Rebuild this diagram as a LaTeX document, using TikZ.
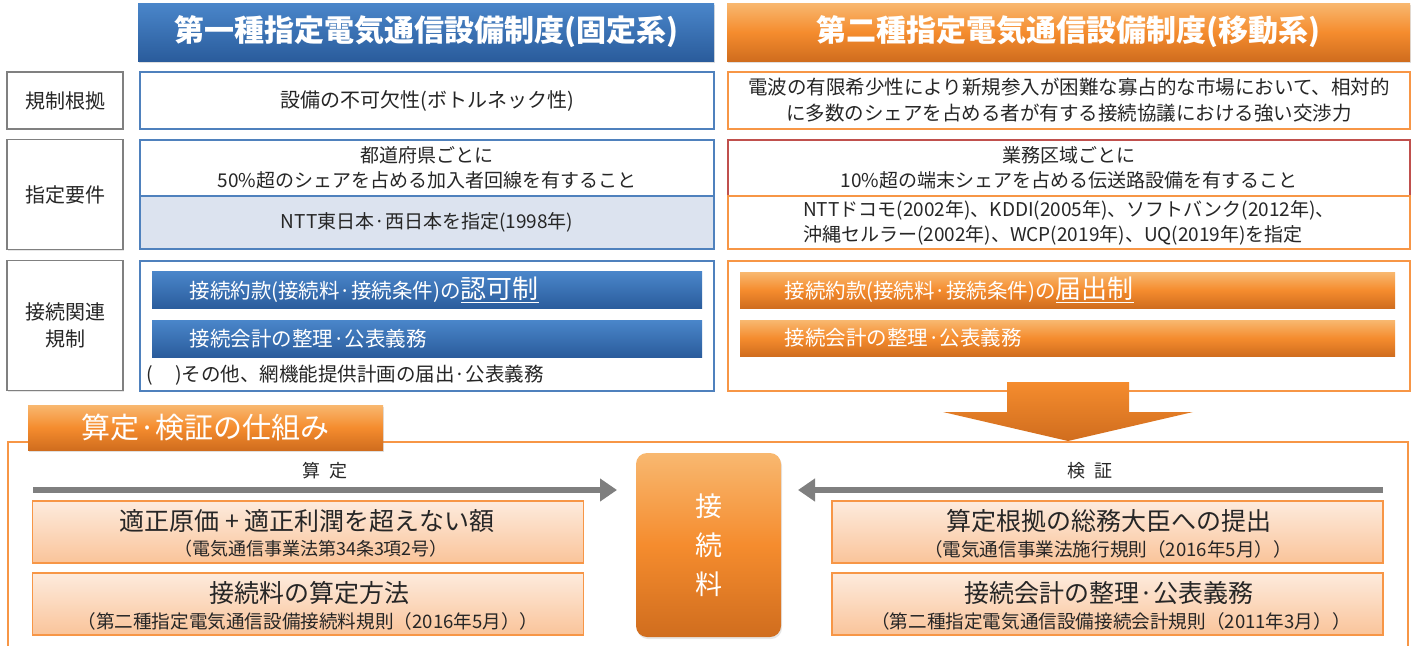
\documentclass[tikz,border=0pt]{standalone}
\usepackage{fontspec}
\setmainfont{Noto Sans CJK JP}
\usetikzlibrary{arrows.meta,shadows}
\definecolor{bdblue}{HTML}{4F81BD}
\definecolor{bdorange}{HTML}{F79646}
\definecolor{bdred}{HTML}{C0504D}
\definecolor{bdgray}{HTML}{808080}
\definecolor{ltblue}{HTML}{DCE3EF}
\definecolor{txt}{HTML}{262626}
\definecolor{arrgray}{HTML}{7F7F7F}
\definecolor{blueT}{HTML}{4A86CA}
\definecolor{blueB}{HTML}{2A5C9C}
\definecolor{orT}{HTML}{F8B870}
\definecolor{orM}{HTML}{F58C2E}
\definecolor{orB}{HTML}{D06D1E}
\definecolor{peachT}{HTML}{FDEBDD}
\definecolor{peachB}{HTML}{FAC49A}
\newcommand{\fsz}[2]{\fontsize{#1}{#2}\selectfont}
\tikzset{
  hdblue/.style={top color=blueT, bottom color=blueB, draw=none, text=white,
    font=\fsz{30}{34}\bfseries, drop shadow={opacity=0.25,shadow xshift=1pt,shadow yshift=-2pt}},
  hdorange/.style={top color=orT, bottom color=orB, middle color=orM, draw=none, text=white,
    font=\fsz{30}{34}\bfseries, drop shadow={opacity=0.25,shadow xshift=1pt,shadow yshift=-2pt}},
  lblbox/.style={draw=bdgray, line width=1.5pt, fill=white, text=txt, align=center,
    font=\fsz{20}{27}, drop shadow={opacity=0.2,shadow xshift=1pt,shadow yshift=-1pt}},
  bbox/.style={draw=bdblue, line width=2.5pt, fill=white, text=txt, align=center, font=\fsz{19}{25}},
  obox/.style={draw=bdorange, line width=2.5pt, fill=white, text=txt, align=center, font=\fsz{19}{25}},
  bbar/.style={top color=blueT, bottom color=blueB, draw=none, text=white},
  obar/.style={top color=orT, bottom color=orB, middle color=orM, draw=none, text=white},
  bartext/.style={text=white, anchor=west, font=\fsz{20.5}{24}},
  peach/.style={draw=bdorange, line width=1.2pt, top color=peachT, bottom color=peachB,
    text=txt, align=center},
  garrow/.style={draw=arrgray, line width=6pt, -{Triangle[length=17pt,width=22pt]}},
  glabel/.style={text=txt, font=\fsz{18}{20}},
  mainline/.style={text=txt, font=\fsz{25}{28}},
  subline/.style={text=txt, font=\fsz{18.6}{20}},
}
\begin{document}
\begin{tikzpicture}[x=1pt,y=-1pt]
\useasboundingbox (0,0) rectangle (1413,645);
% headers
\node[hdblue, minimum width=576pt, minimum height=58pt] (h1) at (426,32) {第一種指定電気通信設備制度(固定系)};
\node[hdorange, minimum width=683pt, minimum height=58pt] (h2) at (1068.5,32) {第二種指定電気通信設備制度(移動系)};
% left labels
\node[lblbox, minimum width=116pt, minimum height=57pt] (l1) at (65,100.5) {規制根拠};
\node[lblbox, minimum width=116pt, minimum height=110pt] (l2) at (65,194.5) {指定要件};
\node[lblbox, minimum width=116pt, minimum height=130pt] (l3) at (65,325.5) {接続関連\\規制};
% blue column
\node[bbox, minimum width=574pt, minimum height=57pt, font=\fsz{20}{25}] (b1) at (427,100.5) {設備の不可欠性(ボトルネック性)};
\node[bbox, minimum width=574pt, minimum height=56pt] (b2a) at (427,168) {都道府県ごとに\\50\%超のシェアを占める加入者回線を有すること};
\node[bbox, fill=ltblue, minimum width=574pt, minimum height=53pt] (b2b) at (427,222.5) {NTT東日本·西日本を指定(1998年)};
\node[bbox, minimum width=574pt, minimum height=130pt] (b3) at (427,326) {};
\node[bbar, minimum width=550pt, minimum height=37pt] (bb1) at (427,290) {};
\node[bartext] (bt1) at (186,290) {接続約款(接続料·接続条件)の{\fsz{26}{28}\underline{認可制}}};
\node[bbar, minimum width=550pt, minimum height=37pt] (bb2) at (427,338.5) {};
\node[bartext] (bt2) at (186,338.5) {接続会計の整理·公表義務};
\node[anchor=west, text=txt, font=\fsz{19.5}{24}] (bnote) at (143,375) {(\hspace{22pt})その他、網機能提供計画の届出·公表義務};
% orange column
\node[obox, minimum width=682pt, minimum height=57pt, font=\fsz{19.5}{26}] (o1) at (1069,100.5) {電波の有限希少性により新規参入が困難な寡占的な市場において、相対的\\に多数のシェアを占める者が有する接続協議における強い交渉力};
\node[obox, draw=bdred, line width=1.5pt, minimum width=682pt, minimum height=56pt] (o2a) at (1069,168) {業務区域ごとに\\10\%超の端末シェアを占める伝送路設備を有すること};
\node[obox, minimum width=682pt, minimum height=53pt, align=left] (o2b) at (1069,222.5) {NTTドコモ(2002年)、KDDI(2005年)、ソフトバンク(2012年)、\\沖縄セルラー(2002年)、WCP(2019年)、UQ(2019年)を指定};
\node[obox, minimum width=682pt, minimum height=130pt] (o3) at (1069,326) {};
\node[obar, minimum width=655pt, minimum height=36pt] (ob1) at (1067.5,290) {};
\node[bartext] (ot1) at (781,290) {接続約款(接続料·接続条件)の{\fsz{26}{28}\underline{届出制}}};
\node[obar, minimum width=655pt, minimum height=36pt] (ob2) at (1067.5,338) {};
\node[bartext] (ot2) at (781,338) {接続会計の整理·公表義務};
% down arrow
\shade[top color=orM, bottom color=orB] (1007,382) -- (1129,382) -- (1129,412) -- (1193,412) -- (1068,441) -- (943,412) -- (1007,412) -- cycle;
% lower frame
\draw[bdorange, line width=2.5pt] (8,660) -- (8,442) -- (1408,442) -- (1408,660);
\node[obar, minimum width=355pt, minimum height=45pt, font=\fsz{29}{32},
  drop shadow={opacity=0.25,shadow xshift=1pt,shadow yshift=-2pt}] (tab) at (205.5,427.5) {算定·検証の仕組み};
% center box
\node[obar, rounded corners=11pt, minimum width=145pt, minimum height=184pt, align=center,
  font=\fsz{27}{39}, drop shadow={opacity=0.2,shadow xshift=1pt,shadow yshift=-2pt}] (cbox) at (708.5,545) {接\\続\\料};
% gray arrows
\coordinate (a1s) at (33,490);
\coordinate (a1e) at (617,490);
\coordinate (a2s) at (1383,490);
\coordinate (a2e) at (798,490);
\draw[garrow] (a1s) -- (a1e);
\draw[garrow] (a2s) -- (a2e);
\node[glabel] (lab1) at (325,471) {算\hspace{9pt}定};
\node[glabel] (lab2) at (1090,471) {検\hspace{9pt}証};
% peach boxes
\node[peach, minimum width=551pt, minimum height=62pt] (p1) at (308,532) {};
\node[mainline] (p1a) at (307,521) {適正原価 + 適正利潤を超えない額};
\node[subline, font=\fsz{18}{20}] (p1b) at (311,549) {（電気通信事業法第34条3項2号）};
\node[peach, minimum width=551pt, minimum height=62pt] (p2) at (308,604) {};
\node[mainline] (p2a) at (309,593) {接続料の算定方法};
\node[subline] (p2b) at (308,621) {（第二種指定電気通信設備接続料規則（2016年5月））};
\node[peach, minimum width=551pt, minimum height=62pt] (p3) at (1107.5,532) {};
\node[mainline] (p3a) at (1108.5,521) {算定根拠の総務大臣への提出};
\node[subline] (p3b) at (1108,549) {（電気通信事業法施行規則（2016年5月））};
\node[peach, minimum width=551pt, minimum height=62pt] (p4) at (1107.5,604) {};
\node[mainline] (p4a) at (1108.5,593) {接続会計の整理·公表義務};
\node[subline] (p4b) at (1111,621) {（第二種指定電気通信設備接続会計規則（2011年3月））};
\end{tikzpicture}
\end{document}
